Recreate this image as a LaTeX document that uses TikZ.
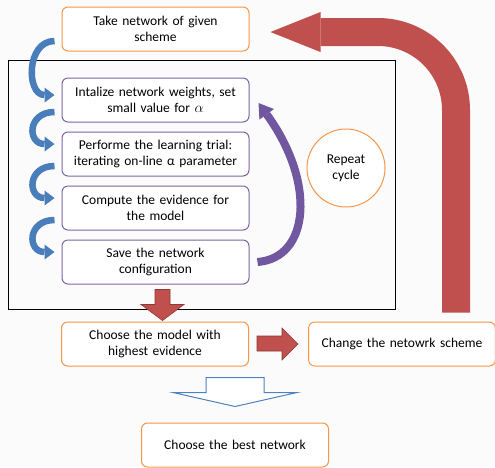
\documentclass[tikz,border=0pt]{standalone}
\usepackage{fontspec}
\setmainfont{Carlito}
\usetikzlibrary{positioning,arrows.meta}
\definecolor{boxorange}{HTML}{F79646}
\definecolor{boxpurple}{HTML}{8064A2}
\definecolor{arrowblue}{HTML}{4A7EBB}
\definecolor{arrowpurple}{HTML}{7157A0}
\definecolor{arrowred}{HTML}{C0504D}
\definecolor{redborder}{HTML}{8C3836}
\definecolor{hollowblue}{HTML}{4F81BD}
\tikzset{
  stepbox/.style={draw, rounded corners=6pt, fill=white, line width=1pt,
    minimum width=187pt, minimum height=44pt, text width=180pt, align=center,
    font=\fontsize{13.5}{16.5}\selectfont},
  orangebox/.style={stepbox, draw=boxorange},
  purplebox/.style={stepbox, draw=boxpurple},
  bluecurve/.style={draw=arrowblue, line width=6.5pt,
    -{Triangle[width=15pt,length=10pt,line width=0pt]}},
  purplecurve/.style={draw=arrowpurple, line width=8pt,
    -{Triangle[width=18pt,length=14pt,line width=0pt]}},
  blockarrow/.style={fill=arrowred, draw=redborder, line width=0.6pt},
}
\begin{document}
\begin{tikzpicture}[x=1pt,y=-1pt,node distance=9pt]
\fill[gray!3] (0,0) rectangle (495,467);
\useasboundingbox (0,0) rectangle (495,467);

% frame round the trial loop
\draw[line width=1pt] (8,60) rectangle (395,309);

\node[orangebox] (take) at (155.5,29) {Take network of given\\scheme};
\node[purplebox] (init) at (155.5,100) {Intalize network weights, set\\small value for $\alpha$};
\node[purplebox, below=of init] (trial) {Performe the learning trial:\\iterating on-line α parameter};
\node[purplebox, below=of trial] (evid) {Compute the evidence for\\the model};
\node[purplebox, below=of evid] (save) {Save the network\\configuration};

\node[circle, draw=boxorange, line width=1pt, fill=white, minimum size=78pt,
  align=center, font=\fontsize{13.5}{16.5}\selectfont] (repeat) at (346,168) {Repeat\\cycle};

\node[orangebox] (choose) at (155,344) {Choose the model with\\highest evidence};
\node[orangebox, minimum width=185pt] (change) at (402,344) {Change the netowrk scheme};
\node[orangebox] (best) at (235,445) {Choose the best network};

% blue step arrows
\draw[bluecurve, looseness=1.35] ([shift={(-7pt,-12pt)}]take.west) to[out=180,in=180] ([shift={(-7pt,5pt)}]init.west);
\draw[bluecurve, looseness=2.2] ([shift={(-7pt,-12pt)}]init.west) to[out=180,in=180] ([shift={(-7pt,10pt)}]trial.west);
\draw[bluecurve, looseness=2.2] ([shift={(-7pt,-12pt)}]trial.west) to[out=180,in=180] ([shift={(-7pt,10pt)}]evid.west);
\draw[bluecurve, looseness=2.2] ([shift={(-7pt,-12pt)}]evid.west) to[out=180,in=180] ([shift={(-7pt,10pt)}]save.west);

% repeat arrow
\draw[purplecurve] ([xshift=8pt]save.east) .. controls +(52,-4) and +(58,80) .. ([shift={(9pt,-3pt)}]init.east);

% big return arrow
\draw[draw=arrowred, line width=28pt, rounded corners=78pt,
  -{Triangle[width=40pt,length=50pt,line width=0pt]}]
  ([xshift=54pt,yshift=9pt]change.north) |- ([shift={(21pt,-3pt)}]take.east);

% block arrows
\path ([xshift=7pt,yshift=-36pt]save.south) coordinate (downtip);
\draw[blockarrow] (downtip) -- ++(-21.5,-16) -- ++(14,0) -- ++(0,-15) -- ++(15,0) -- ++(0,15) -- ++(14,0) -- cycle;
\path ([xshift=49pt]choose.east) coordinate (righttip);
\draw[blockarrow] (righttip) -- ++(-16,-16) -- ++(0,8) -- ++(-25,0) -- ++(0,15) -- ++(25,0) -- ++(0,9) -- cycle;
\path ([yshift=16pt]best.north) coordinate (besttip);
\draw[hollowblue, fill=white, line width=1pt] (besttip) -- ++(-62,-14) -- ++(33,0) -- ++(0,-15) -- ++(58,0) -- ++(0,15) -- ++(33,0) -- cycle;
\end{tikzpicture}
\end{document}
